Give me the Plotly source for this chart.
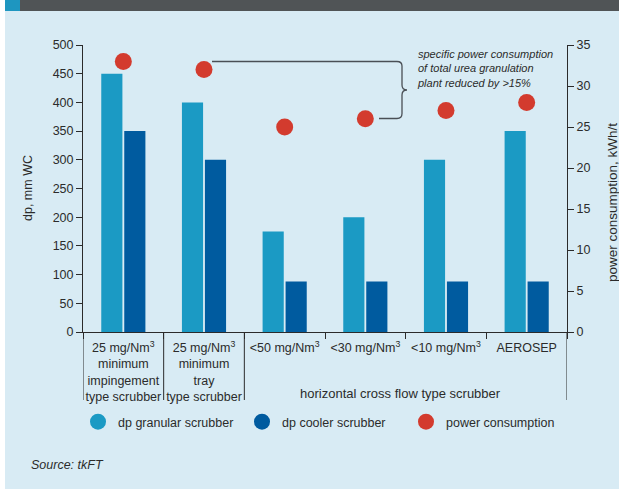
import plotly.graph_objects as go

categories = [
    "25 mg/Nm<sup>3</sup><br>minimum<br>impingement<br>type scrubber",
    "25 mg/Nm<sup>3</sup><br>minimum<br>tray<br>type scrubber",
    "&lt;50 mg/Nm<sup>3</sup>",
    "&lt;30 mg/Nm<sup>3</sup>",
    "&lt;10 mg/Nm<sup>3</sup>",
    "AEROSEP",
]
dp_granular = [450, 400, 175, 200, 300, 350]
dp_cooler = [350, 300, 88, 88, 88, 88]
power = [33, 32, 25, 26, 27, 28]

C_GRAN = "#1b9ac4"
C_COOL = "#005b9f"
C_RED = "#d33b2e"
BG = "#d8ebf4"
INK = "#2b2b2b"
FONT = "Liberation Sans, Arial, sans-serif"

W, H = 619, 489
L, R, T, B = 83, 52, 45, 157
PW, PH = W - L - R, H - T - B


def fx(px):
    return (px - L) / PW


def fy(py):
    return (H - B - py) / PH


fig = go.Figure()
fig.add_trace(go.Bar(x=categories, y=dp_granular, name="dp granular scrubber",
                     marker=dict(color=C_GRAN, line=dict(width=0)), showlegend=False))
fig.add_trace(go.Bar(x=categories, y=dp_cooler, name="dp cooler scrubber",
                     marker=dict(color=C_COOL, line=dict(width=0)), showlegend=False))
fig.add_trace(go.Scatter(x=categories, y=power, name="power consumption", yaxis="y2",
                         mode="markers", marker=dict(color=C_RED, size=17, symbol="circle"),
                         showlegend=False))
# legend entries (circles)
for nm, col in [("dp granular scrubber", C_GRAN), ("dp cooler scrubber", C_COOL),
                ("power consumption", C_RED)]:
    fig.add_trace(go.Scatter(x=[None], y=[None], name=nm, mode="markers",
                             marker=dict(color=col, size=16, symbol="circle"),
                             showlegend=True))

shapes = []
# white strip on left
shapes.append(dict(type="rect", xref="paper", yref="paper", x0=fx(-5), x1=fx(5), y0=fy(-5), y1=fy(H + 5),
                   fillcolor="white", line=dict(width=0), layer="below"))
# top dark band
shapes.append(dict(type="rect", xref="paper", yref="paper", x0=fx(5), x1=fx(W + 5), y0=fy(11), y1=fy(-5),
                   fillcolor="#505456", line=dict(width=0), layer="above"))
shapes.append(dict(type="rect", xref="paper", yref="paper", x0=fx(5), x1=fx(20), y0=fy(11), y1=fy(-5),
                   fillcolor="#1e96c0", line=dict(width=0), layer="above"))
# category dividers below axis
for xb in [-0.5, 0.5, 1.5, 5.5]:
    shapes.append(dict(type="line", xref="x", yref="paper", x0=xb, x1=xb, y0=0, y1=fy(400),
                       line=dict(color=INK, width=1)))

# brace annotation
def P(px, py):
    return f"{fx(px):.5f},{fy(py):.5f}"

brace = (f"M {P(212, 61.5)} L {P(397, 61.5)} Q {P(402, 61.5)} {P(402, 66)} "
         f"L {P(402, 85)} Q {P(402, 90)} {P(407, 90)} Q {P(402, 90)} {P(402, 95)} "
         f"L {P(402, 113.5)} Q {P(402, 118.5)} {P(397, 118.5)} L {P(379, 118.5)}")
shapes.append(dict(type="path", xref="paper", yref="paper", path=brace,
                   line=dict(color="#4a4f55", width=1.3)))

annotations = [
    dict(xref="paper", yref="paper", x=fx(415), y=fy(68.5), xanchor="left", yanchor="middle",
         align="left", showarrow=False,
         text="<i>specific power consumption<br>of total urea granulation<br>plant reduced by &gt;15%</i>",
         font=dict(family=FONT, size=11, color=INK)),
    dict(xref="paper", yref="paper", x=fx(400), y=fy(393), xanchor="center", yanchor="middle",
         showarrow=False, text="horizontal cross flow type scrubber",
         font=dict(family=FONT, size=13, color=INK)),
    dict(xref="paper", yref="paper", x=fx(28), y=fy(188), xanchor="center", yanchor="middle",
         textangle=-90, showarrow=False, text="dp, mm WC",
         font=dict(family=FONT, size=12.5, color=INK)),
    dict(xref="paper", yref="paper", x=fx(613), y=fy(203), xanchor="center", yanchor="middle",
         textangle=-90, showarrow=False, text="power consumption, kWh/t",
         font=dict(family=FONT, size=13.5, color=INK)),
    dict(xref="paper", yref="paper", x=fx(29), y=fy(465), xanchor="left", yanchor="middle",
         showarrow=False, text="<i>Source: tkFT</i>",
         font=dict(family=FONT, size=12.5, color=INK)),
]

fig.update_layout(
    width=W, height=H, autosize=False,
    margin=dict(l=L, r=R, t=T, b=B, pad=0),
    paper_bgcolor=BG, plot_bgcolor=BG,
    font=dict(family=FONT, size=12.5, color=INK),
    barmode="group", bargap=0.43, bargroupgap=0.08,
    xaxis=dict(type="category", range=[-0.5, 5.5], showgrid=False, showline=True, linecolor=INK,
               linewidth=1, ticks="outside", tickson="boundaries", ticklen=6, tickcolor=INK,
               tickangle=0, automargin=False, ticklabelstandoff=4,
               tickfont=dict(family=FONT, size=12.5, color=INK), zeroline=False, fixedrange=True),
    yaxis=dict(range=[0, 500], dtick=50, showgrid=False, showline=True, linecolor=INK, linewidth=1,
               ticks="outside", ticklen=6, tickcolor=INK, zeroline=False, automargin=False,
               tickfont=dict(family=FONT, size=12.5, color=INK)),
    yaxis2=dict(range=[0, 35], dtick=5, overlaying="y", side="right", showgrid=False, showline=True,
                linecolor=INK, linewidth=1, ticks="outside", ticklen=6, tickcolor=INK, zeroline=False,
                automargin=False, tickfont=dict(family=FONT, size=12.5, color=INK)),
    legend=dict(orientation="h", x=fx(78), y=fy(422), xanchor="left", yanchor="middle",
                bgcolor="rgba(0,0,0,0)", font=dict(family=FONT, size=12.5, color=INK),
                entrywidth=119, entrywidthmode="pixels", traceorder="normal"),
    shapes=shapes, annotations=annotations,
)

fig.write_html("out.html")
